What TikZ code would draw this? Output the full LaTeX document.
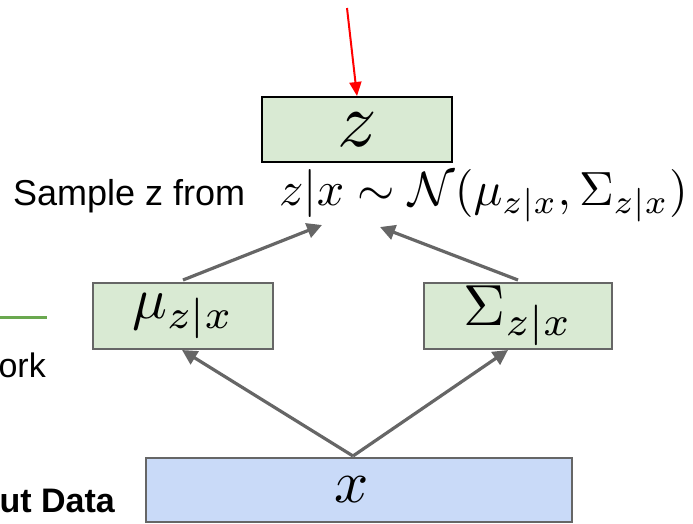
\documentclass[tikz,border=0pt]{standalone}
\usepackage{fontspec}
\newfontfamily\arial{Liberation Sans}
\usetikzlibrary{arrows.meta}
\definecolor{boxgreen}{HTML}{D9EAD3}
\definecolor{boxblue}{HTML}{C9DAF8}
\definecolor{bordergray}{HTML}{666666}
\definecolor{linegreen}{HTML}{6AA84F}
\tikzset{
  greenbox/.style={draw=bordergray, line width=2pt, fill=boxgreen, inner sep=0pt},
  zbox/.style={draw=black, line width=2pt, fill=boxgreen, inner sep=0pt},
  bluebox/.style={draw=bordergray, line width=2pt, fill=boxblue, inner sep=0pt},
  grayarrow/.style={draw=bordergray, line width=3.2pt, -{Triangle[length=15pt,width=15pt]}},
  redarrow/.style={draw=red, line width=2pt, -{Triangle[length=14pt,width=12pt]}},
  sanslabel/.style={inner sep=0pt, font=\arial\fontsize{34}{40}\selectfont},
}
\begin{document}
\begin{tikzpicture}[x=1pt,y=-1pt]
\useasboundingbox (0,0) rectangle (693,523);
\clip (0,0) rectangle (693,523);
% boxes
\node[zbox, minimum width=190pt, minimum height=65pt] (zb) at (357,129.5) {\scalebox{7.8}{$z$}};
\node[greenbox, minimum width=180pt, minimum height=66pt] (mu) at (183,316) {\scalebox{5.8}{$\mu_{z|x}$}};
\node[greenbox, minimum width=188pt, minimum height=66pt] (sig) at (518,316) {\scalebox{5.8}{$\Sigma_{z|x}$}};
\node[bluebox, minimum width=426pt, minimum height=64pt] (xb) at (359,490) {\hspace*{-14pt}\scalebox{6}{$x$}};
% texts
\node[sanslabel, anchor=base west, font=\arial\fontsize{36}{42}\selectfont] (sample) at (13,205) {Sample z from};
\node[inner sep=0pt, anchor=base west] (formula) at (279,205) {\scalebox{4.8}{$z|x \sim \mathcal{N}(\mu_{z|x}, \Sigma_{z|x})$}};
\node[sanslabel, anchor=base east] (ork) at (46,377) {ork};
\node[sanslabel, anchor=base east, font=\arial\bfseries\fontsize{34}{40}\selectfont] (data) at (115,512) {ut Data};
% coordinates
\coordinate (redstart) at (347,8);
\coordinate (apex) at (353,456);
\coordinate (tipL) at (322,225);
\coordinate (tipR) at (380,227);
\coordinate (gl1) at (0,317);
\coordinate (gl2) at (47,317);
% connectors
\draw[redarrow] (redstart) -- (zb.north);
\draw[grayarrow] (apex) -- ([xshift=-1pt]mu.south);
\draw[grayarrow] (apex) -- ([xshift=-10pt]sig.south);
\draw[grayarrow] ([yshift=2pt]mu.north) -- (tipL);
\draw[grayarrow] ([yshift=2pt]sig.north) -- (tipR);
\draw[linegreen, line width=3pt] (gl1) -- (gl2);
\end{tikzpicture}
\end{document}
